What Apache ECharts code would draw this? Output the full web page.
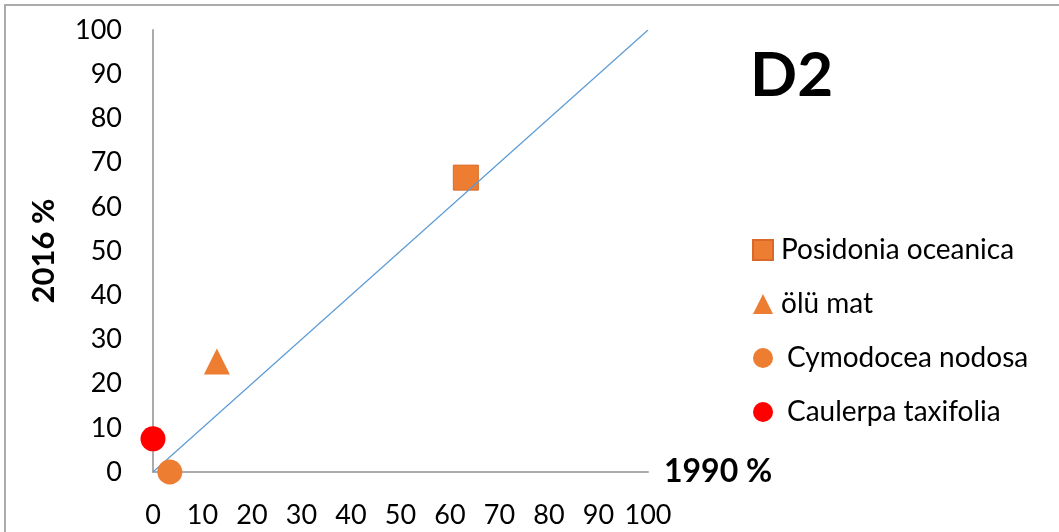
<!DOCTYPE html>
<html>
<head>
<meta charset="utf-8">
<script src="https://cdn.jsdelivr.net/npm/echarts@6/dist/echarts.min.js"></script>
<style>
html,body{margin:0;padding:0;background:#fff;}
#c{width:1059px;height:532px;}
</style>
</head>
<body>
<div id="c"></div>
<script>
const seriesNames = ['Posidonia oceanica', 'ölü mat', 'Cymodocea nodosa', 'Caulerpa taxifolia'];
const posidonia = [[63.2, 66.6]];
const oluMat = [[12.9, 25.0]];
const cymodocea = [[3.4, 0]];
const caulerpa = [[0, 7.5]];
const refLine = [[0, 0], [100, 100]];
const xTicks = [0, 10, 20, 30, 40, 50, 60, 70, 80, 90, 100];
const yTicks = [0, 10, 20, 30, 40, 50, 60, 70, 80, 90, 100];

const FONT = 'Lato, "Open Sans", sans-serif';
const orange = '#ED7D31';
const chart = echarts.init(document.getElementById('c'), null, {renderer: 'canvas'});
chart.setOption({
  backgroundColor: '#fff',
  animation: false,
  title: {
    text: 'D2', left: 745, top: 40,
    textStyle: {fontFamily: FONT, fontSize: 62, fontWeight: 'bold', color: '#000'}
  },
  graphic: [{
    type: 'rect', shape: {x: 5, y: 5, width: 1070, height: 540},
    style: {fill: 'none', stroke: '#ababab', lineWidth: 2}, silent: true
  }],
  legend: {
    orient: 'vertical', left: 747, top: 231, itemGap: 26,
    itemWidth: 20, itemHeight: 20,
    textStyle: {fontFamily: FONT, fontSize: 28, lineHeight: 28, color: '#000', padding: [0, 0, 0, 3]},
    data: [
      {name: seriesNames[0], icon: 'rect'},
      {name: seriesNames[1], icon: 'triangle'},
      {name: seriesNames[2], icon: 'circle', textStyle: {padding: [0, 0, 0, 9]}},
      {name: seriesNames[3], icon: 'circle', textStyle: {padding: [0, 0, 0, 9]}}
    ]
  },
  grid: {left: 153, right: 411, top: 30, bottom: 60, containLabel: false},
  xAxis: {
    type: 'value', min: 0, max: 100, interval: 10,
    name: '1990 %', nameLocation: 'end', nameGap: 16,
    nameTextStyle: {fontFamily: FONT, fontSize: 32, fontWeight: 'bold', color: '#000', verticalAlign: 'middle', padding: [0,0,8,0]},
    axisLine: {show: true, lineStyle: {color: '#ababab', width: 2}},
    axisTick: {show: false}, splitLine: {show: false},
    axisLabel: {fontFamily: FONT, fontSize: 27, color: '#000', margin: 30,
      formatter: v => xTicks.includes(v) ? String(v) : ''}
  },
  yAxis: {
    type: 'value', min: 0, max: 100, interval: 10,
    name: '2016 %', nameLocation: 'middle', nameGap: 94, nameRotate: 90,
    nameTextStyle: {fontFamily: FONT, fontSize: 31, fontWeight: 'bold', color: '#000'},
    axisLine: {show: true, lineStyle: {color: '#ababab', width: 2}},
    axisTick: {show: false}, splitLine: {show: false},
    axisLabel: {fontFamily: FONT, fontSize: 27, color: '#000', margin: 31,
      formatter: v => yTicks.includes(v) ? String(v) : ''}
  },
  series: [
    {type: 'line', data: refLine, symbol: 'none', silent: true,
      lineStyle: {color: '#5B9BD5', width: 1.2}, z: 3},
    {name: seriesNames[0], type: 'scatter', data: posidonia, symbol: 'rect', symbolSize: 25,
      itemStyle: {color: orange, opacity: 1, borderColor: '#d8692a', borderWidth: 1}, z: 2},
    {name: seriesNames[1], type: 'scatter', data: oluMat, symbol: 'triangle', symbolSize: 26,
      itemStyle: {color: orange, opacity: 1}, z: 2},
    {name: seriesNames[2], type: 'scatter', data: cymodocea, symbol: 'circle', symbolSize: 25,
      itemStyle: {color: orange, opacity: 1}, z: 4, clip: false},
    {name: seriesNames[3], type: 'scatter', data: caulerpa, symbol: 'circle', symbolSize: 25,
      itemStyle: {color: '#FF0000', opacity: 1}, z: 4, clip: false}
  ]
});
</script>
</body>
</html>
